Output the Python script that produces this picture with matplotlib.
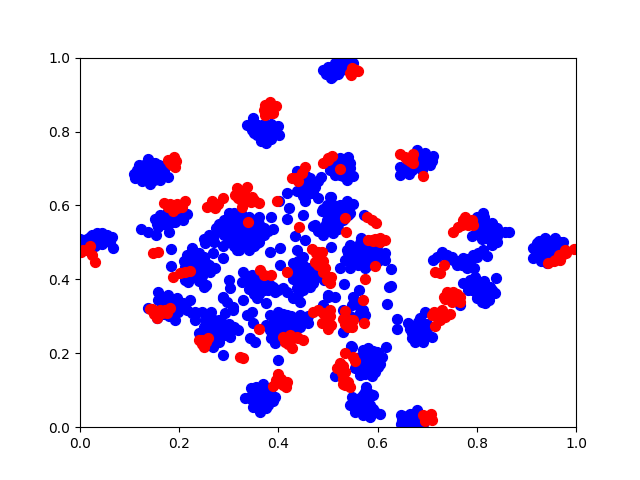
import matplotlib
matplotlib.use('Agg')
import matplotlib.pyplot as plt

# Points, group by group
blue_points = [
    # left edge
    (0.005, 0.50), (0.015, 0.51), (0.025, 0.52), (0.035, 0.525), (0.045, 0.525), (0.055, 0.52), (0.065, 0.515),
    (0.01, 0.49), (0.02, 0.50), (0.03, 0.505), (0.04, 0.51), (0.05, 0.505), (0.06, 0.50), (0.015, 0.48),
    (0.03, 0.49), (0.045, 0.495), (0.0, 0.51), (0.067, 0.485),
    # top
    (0.336, 0.818), (0.348, 0.836), (0.359, 0.818), (0.373, 0.814), (0.386, 0.821), (0.4, 0.816), (0.402, 0.79),
    (0.376, 0.77), (0.346, 0.805), (0.356, 0.791), (0.37, 0.785), (0.383, 0.791), (0.39, 0.805), (0.366, 0.8), (0.38, 0.8),
    (0.108, 0.686), (0.118, 0.71), (0.138, 0.725), (0.151, 0.715), (0.165, 0.701), (0.178, 0.677), (0.161, 0.669),
    (0.141, 0.658), (0.111, 0.674), (0.124, 0.678), (0.138, 0.692), (0.151, 0.683), (0.128, 0.701), (0.144, 0.705), (0.168, 0.683),
    (0.151, 0.564), (0.161, 0.575), (0.175, 0.579), (0.188, 0.579), (0.202, 0.584), (0.215, 0.577), (0.208, 0.561),
    (0.192, 0.556), (0.175, 0.547), (0.158, 0.543), (0.181, 0.565), (0.168, 0.561), (0.18, 0.528),
    (0.123, 0.536), (0.138, 0.527), (0.153, 0.519),
    # around (0.45, 0.65)
    (0.437, 0.692), (0.45, 0.669), (0.464, 0.674), (0.485, 0.677), (0.437, 0.638), (0.457, 0.647), (0.474, 0.651),
    (0.48, 0.62), (0.454, 0.611), (0.418, 0.633), (0.402, 0.613), (0.422, 0.593), (0.418, 0.563), (0.45, 0.575),
    (0.434, 0.516), (0.454, 0.507), (0.487, 0.584), (0.504, 0.624), (0.474, 0.547), (0.491, 0.543),
    # big cluster
    (0.3, 0.58), (0.31, 0.56), (0.325, 0.58), (0.34, 0.57), (0.35, 0.56), (0.36, 0.55), (0.29, 0.56), (0.28, 0.55),
    (0.3, 0.54), (0.32, 0.54), (0.34, 0.54), (0.36, 0.53), (0.38, 0.53), (0.385, 0.57), (0.39, 0.535),
    (0.26, 0.52), (0.25, 0.51), (0.28, 0.53), (0.3, 0.52), (0.32, 0.51), (0.34, 0.51), (0.36, 0.51),
    (0.31, 0.49), (0.33, 0.49), (0.35, 0.49),
    # top middle
    (0.49, 0.967), (0.507, 0.945), (0.5, 0.96), (0.51, 0.975), (0.52, 0.985), (0.53, 0.99), (0.54, 0.995),
    (0.525, 0.965), (0.51, 0.95), (0.54, 0.975), (0.55, 0.985), (0.495, 0.955),
    (0.524, 0.728), (0.541, 0.731), (0.514, 0.71), (0.534, 0.71), (0.551, 0.68), (0.539, 0.668), (0.514, 0.683),
    (0.504, 0.696), (0.524, 0.683), (0.497, 0.715), (0.545, 0.7),
    (0.679, 0.751), (0.696, 0.742), (0.711, 0.733), (0.706, 0.71), (0.645, 0.705), (0.645, 0.683), (0.664, 0.686),
    (0.679, 0.705), (0.696, 0.715), (0.699, 0.728), (0.682, 0.728), (0.665, 0.705),
    (0.507, 0.624), (0.538, 0.611), (0.551, 0.604), (0.524, 0.602), (0.511, 0.597), (0.497, 0.602), (0.5, 0.579),
    (0.514, 0.579), (0.528, 0.588), (0.541, 0.575), (0.497, 0.561), (0.514, 0.561), (0.531, 0.561), (0.511, 0.525),
    (0.497, 0.538), (0.573, 0.575), (0.567, 0.511), (0.47, 0.545), (0.48, 0.53), (0.49, 0.52), (0.5, 0.54),
    # right side
    (0.813, 0.579), (0.8, 0.57), (0.83, 0.552), (0.84, 0.538), (0.816, 0.552), (0.803, 0.552), (0.827, 0.525),
    (0.81, 0.529), (0.84, 0.516), (0.79, 0.516), (0.864, 0.529), (0.857, 0.529),
    (0.803, 0.471), (0.82, 0.462), (0.813, 0.48), (0.83, 0.493), (0.84, 0.502),
    (0.712, 0.453), (0.729, 0.475), (0.739, 0.457), (0.753, 0.453), (0.772, 0.457), (0.76, 0.439), (0.786, 0.448),
    (0.78, 0.43), (0.793, 0.466),
    (0.773, 0.389), (0.796, 0.407), (0.839, 0.405), (0.783, 0.371), (0.806, 0.389), (0.826, 0.38), (0.836, 0.364),
    (0.817, 0.335), (0.8, 0.349), (0.82, 0.358), (0.793, 0.385), (0.786, 0.398), (0.81, 0.367), (0.767, 0.331),
    (0.696, 0.313), (0.64, 0.292), (0.64, 0.265), (0.662, 0.281), (0.682, 0.285), (0.669, 0.254), (0.675, 0.231),
    (0.692, 0.231), (0.709, 0.245), (0.685, 0.254), (0.699, 0.267), (0.679, 0.267), (0.692, 0.281),
    (0.914, 0.484), (0.921, 0.498), (0.934, 0.502), (0.968, 0.502), (0.974, 0.484), (0.914, 0.457), (0.941, 0.444),
    (0.931, 0.461), (0.948, 0.48), (0.961, 0.489), (0.934, 0.484), (0.938, 0.511), (0.958, 0.511), (0.974, 0.502),
    # bottom
    (0.648, 0.033), (0.665, 0.037), (0.679, 0.046), (0.648, 0.01), (0.665, 0.014), (0.682, 0.019), (0.692, 0.01),
    (0.655, 0.023), (0.67, 0.005),
    (0.577, 0.109), (0.591, 0.087), (0.548, 0.082), (0.544, 0.06), (0.555, 0.042), (0.571, 0.033), (0.585, 0.028),
    (0.604, 0.037), (0.568, 0.064), (0.585, 0.06), (0.558, 0.073), (0.571, 0.087),
    (0.581, 0.213), (0.598, 0.204), (0.608, 0.19), (0.601, 0.164), (0.588, 0.138), (0.565, 0.141), (0.554, 0.159),
    (0.565, 0.19), (0.581, 0.181), (0.571, 0.208), (0.591, 0.173), (0.575, 0.159), (0.617, 0.218), (0.547, 0.22),
    (0.514, 0.138),
    # centre right
    (0.507, 0.487), (0.538, 0.48), (0.544, 0.493), (0.565, 0.498), (0.578, 0.484), (0.598, 0.489), (0.615, 0.471),
    (0.591, 0.457), (0.571, 0.448), (0.554, 0.457), (0.544, 0.43), (0.524, 0.43), (0.628, 0.427), (0.575, 0.43),
    (0.622, 0.38), (0.628, 0.382), (0.618, 0.333), (0.532, 0.388), (0.563, 0.371), (0.551, 0.353), (0.548, 0.331),
    (0.531, 0.317), (0.514, 0.353), (0.571, 0.317), (0.575, 0.304), (0.531, 0.258), (0.548, 0.218), (0.501, 0.358),
    (0.578, 0.471), (0.558, 0.475), (0.534, 0.453), (0.615, 0.453),
    # left and lower middle
    (0.183, 0.482), (0.183, 0.436),
    (0.215, 0.466), (0.225, 0.484), (0.239, 0.452), (0.212, 0.434), (0.222, 0.416), (0.249, 0.439), (0.262, 0.421),
    (0.272, 0.43), (0.252, 0.498), (0.269, 0.471), (0.288, 0.489), (0.289, 0.457), (0.218, 0.394), (0.249, 0.38),
    (0.235, 0.448), (0.232, 0.407), (0.212, 0.398), (0.255, 0.385),
    (0.301, 0.398), (0.302, 0.376), (0.289, 0.349), (0.296, 0.34),
    (0.158, 0.367), (0.178, 0.358), (0.195, 0.349), (0.208, 0.335), (0.222, 0.344), (0.138, 0.322), (0.155, 0.295),
    (0.192, 0.29), (0.232, 0.29), (0.245, 0.313), (0.215, 0.317), (0.175, 0.335), (0.158, 0.344), (0.198, 0.313), (0.232, 0.313),
    (0.239, 0.255), (0.265, 0.312), (0.252, 0.29), (0.275, 0.281), (0.292, 0.308), (0.309, 0.317), (0.319, 0.262),
    (0.303, 0.244), (0.282, 0.244), (0.269, 0.218), (0.288, 0.195), (0.262, 0.267), (0.286, 0.267), (0.249, 0.253), (0.336, 0.304),
    (0.329, 0.421), (0.326, 0.394), (0.346, 0.412), (0.362, 0.394), (0.383, 0.385), (0.41, 0.376), (0.356, 0.349),
    (0.329, 0.344), (0.346, 0.313), (0.376, 0.335), (0.393, 0.367), (0.289, 0.353), (0.309, 0.326), (0.349, 0.281),
    (0.343, 0.24), (0.353, 0.231), (0.4, 0.183),
    (0.316, 0.48), (0.329, 0.493), (0.356, 0.498), (0.383, 0.475), (0.403, 0.484), (0.403, 0.439),
    (0.437, 0.48), (0.43, 0.443), (0.45, 0.426), (0.477, 0.407), (0.464, 0.38), (0.417, 0.367), (0.444, 0.34),
    (0.437, 0.376), (0.464, 0.416), (0.491, 0.398), (0.45, 0.461), (0.444, 0.398),
    (0.383, 0.304), (0.4, 0.313), (0.417, 0.304), (0.444, 0.304), (0.46, 0.281), (0.383, 0.263), (0.403, 0.263),
    (0.423, 0.281), (0.393, 0.227), (0.444, 0.272), (0.376, 0.276), (0.41, 0.29), (0.39, 0.245),
    (0.344, 0.105), (0.368, 0.118), (0.333, 0.078), (0.349, 0.055), (0.363, 0.042), (0.376, 0.051), (0.393, 0.082),
    (0.383, 0.1), (0.363, 0.082), (0.353, 0.078), (0.376, 0.073), (0.375, 0.1), (0.355, 0.095),
    (0.501, 0.353), (0.49, 0.331),
]

# denser points inside the clusters
blue_inner = [
    (0.02, 0.515), (0.04, 0.5), (0.05, 0.515), (0.03, 0.515), (0.01, 0.505), (0.055, 0.51), (0.02, 0.49), (0.035, 0.495),
    (0.35, 0.82), (0.36, 0.805), (0.375, 0.8), (0.37, 0.82), (0.39, 0.815), (0.38, 0.78), (0.36, 0.79), (0.395, 0.8),
    (0.345, 0.82), (0.35, 0.795), (0.385, 0.78), (0.375, 0.79), (0.365, 0.775),
    (0.12, 0.69), (0.13, 0.71), (0.13, 0.68), (0.145, 0.715), (0.145, 0.69), (0.155, 0.7), (0.16, 0.685), (0.115, 0.695),
    (0.14, 0.675), (0.15, 0.67), (0.17, 0.695), (0.125, 0.665), (0.16, 0.71),
    (0.16, 0.555), (0.17, 0.57), (0.185, 0.57), (0.195, 0.57), (0.17, 0.55), (0.185, 0.555), (0.2, 0.57), (0.165, 0.565), (0.155, 0.55),
    (0.445, 0.655), (0.46, 0.66), (0.47, 0.66), (0.445, 0.64), (0.46, 0.63), (0.47, 0.635), (0.48, 0.665), (0.465, 0.65),
    (0.45, 0.625), (0.44, 0.67), (0.455, 0.68),
    (0.29, 0.54), (0.31, 0.54), (0.33, 0.55), (0.35, 0.54), (0.3, 0.56), (0.32, 0.56), (0.34, 0.555), (0.36, 0.57), (0.31, 0.58),
    (0.33, 0.57), (0.29, 0.52), (0.31, 0.52), (0.33, 0.52), (0.35, 0.52), (0.37, 0.52), (0.27, 0.52), (0.27, 0.5), (0.3, 0.5),
    (0.32, 0.5), (0.34, 0.5), (0.36, 0.5), (0.315, 0.53), (0.335, 0.535), (0.355, 0.53), (0.325, 0.51), (0.345, 0.53), (0.3, 0.51),
    (0.305, 0.57), (0.295, 0.55), (0.325, 0.545), (0.275, 0.54), (0.34, 0.48), (0.32, 0.48), (0.36, 0.54), (0.37, 0.54),
    (0.22, 0.44), (0.23, 0.46), (0.24, 0.47), (0.25, 0.46), (0.23, 0.43), (0.24, 0.43), (0.25, 0.42), (0.22, 0.45), (0.225, 0.425),
    (0.235, 0.415), (0.245, 0.41), (0.21, 0.45), (0.255, 0.445), (0.26, 0.44), (0.22, 0.405), (0.24, 0.395),
    (0.17, 0.34), (0.18, 0.345), (0.19, 0.335), (0.2, 0.325), (0.175, 0.32), (0.185, 0.32), (0.21, 0.325), (0.165, 0.33),
    (0.185, 0.305), (0.17, 0.305), (0.2, 0.34), (0.165, 0.35), (0.18, 0.3), (0.225, 0.31),
    (0.26, 0.28), (0.27, 0.26), (0.28, 0.26), (0.27, 0.29), (0.28, 0.29), (0.29, 0.28), (0.3, 0.26), (0.31, 0.27), (0.26, 0.25),
    (0.27, 0.24), (0.28, 0.23), (0.29, 0.25), (0.3, 0.28), (0.25, 0.27), (0.26, 0.3), (0.275, 0.25), (0.29, 0.265), (0.265, 0.27), (0.3, 0.25),
    (0.39, 0.28), (0.4, 0.29), (0.41, 0.28), (0.42, 0.29), (0.43, 0.29), (0.44, 0.29), (0.4, 0.27), (0.41, 0.26), (0.42, 0.26),
    (0.43, 0.27), (0.39, 0.26), (0.45, 0.29), (0.4, 0.25), (0.415, 0.27), (0.425, 0.3), (0.43, 0.26), (0.46, 0.3), (0.395, 0.3),
    (0.385, 0.24), (0.41, 0.305),
    (0.35, 0.4), (0.36, 0.38), (0.37, 0.39), (0.38, 0.37), (0.34, 0.39), (0.35, 0.38), (0.37, 0.37), (0.39, 0.38), (0.4, 0.37),
    (0.36, 0.36), (0.35, 0.36), (0.38, 0.39), (0.345, 0.41), (0.34, 0.375), (0.36, 0.41), (0.335, 0.41),
    (0.44, 0.45), (0.45, 0.44), (0.46, 0.43), (0.44, 0.42), (0.46, 0.41), (0.47, 0.42), (0.45, 0.41), (0.43, 0.42), (0.45, 0.39),
    (0.46, 0.39), (0.44, 0.38), (0.47, 0.39), (0.48, 0.42), (0.43, 0.4), (0.45, 0.37), (0.44, 0.36), (0.43, 0.35),
    (0.505, 0.96), (0.515, 0.96), (0.525, 0.98), (0.535, 0.98), (0.515, 0.985), (0.53, 0.975), (0.545, 0.99), (0.52, 0.955), (0.5, 0.975),
    (0.52, 0.715), (0.53, 0.72), (0.535, 0.695), (0.53, 0.68), (0.54, 0.68), (0.515, 0.695), (0.545, 0.715), (0.52, 0.7), (0.545, 0.685),
    (0.69, 0.73), (0.7, 0.72), (0.685, 0.71), (0.67, 0.695), (0.655, 0.695), (0.69, 0.695), (0.71, 0.72), (0.685, 0.74), (0.66, 0.7),
    (0.51, 0.6), (0.52, 0.59), (0.53, 0.6), (0.54, 0.59), (0.505, 0.57), (0.52, 0.57), (0.53, 0.575), (0.505, 0.55), (0.52, 0.55),
    (0.54, 0.6), (0.51, 0.54), (0.495, 0.55), (0.545, 0.58), (0.52, 0.535), (0.49, 0.59),
    (0.815, 0.57), (0.81, 0.545), (0.825, 0.54), (0.82, 0.53), (0.835, 0.53), (0.805, 0.54), (0.815, 0.52), (0.825, 0.51),
    (0.83, 0.55), (0.8, 0.53), (0.81, 0.51), (0.835, 0.515),
    (0.8, 0.39), (0.81, 0.38), (0.82, 0.37), (0.8, 0.37), (0.79, 0.37), (0.81, 0.35), (0.825, 0.345), (0.815, 0.395), (0.8, 0.36),
    (0.83, 0.37), (0.79, 0.39), (0.81, 0.34),
    (0.72, 0.46), (0.74, 0.465), (0.75, 0.46), (0.765, 0.45), (0.78, 0.455), (0.785, 0.44), (0.8, 0.46), (0.77, 0.44), (0.795, 0.43),
    (0.67, 0.27), (0.68, 0.27), (0.69, 0.26), (0.68, 0.24), (0.67, 0.24), (0.695, 0.25), (0.7, 0.28), (0.665, 0.265), (0.685, 0.295),
    (0.925, 0.49), (0.94, 0.495), (0.95, 0.495), (0.96, 0.5), (0.97, 0.495), (0.925, 0.47), (0.94, 0.47), (0.955, 0.47), (0.965, 0.47),
    (0.93, 0.45), (0.95, 0.46), (0.92, 0.475), (0.965, 0.49), (0.945, 0.505), (0.925, 0.505),
    (0.655, 0.012), (0.675, 0.03), (0.66, 0.03), (0.68, 0.03), (0.685, 0.03), (0.67, 0.02), (0.66, 0.005), (0.68, 0.005), (0.65, 0.02),
    (0.565, 0.08), (0.575, 0.07), (0.56, 0.06), (0.57, 0.05), (0.58, 0.075), (0.555, 0.055), (0.59, 0.05), (0.595, 0.04), (0.58, 0.04),
    (0.565, 0.05), (0.575, 0.095), (0.55, 0.07), (0.585, 0.09),
    (0.57, 0.19), (0.58, 0.2), (0.59, 0.19), (0.6, 0.18), (0.585, 0.165), (0.57, 0.17), (0.56, 0.165), (0.575, 0.145), (0.585, 0.15),
    (0.595, 0.15), (0.565, 0.155), (0.575, 0.21), (0.59, 0.205), (0.56, 0.175), (0.605, 0.17),
    (0.55, 0.48), (0.56, 0.47), (0.57, 0.47), (0.58, 0.46), (0.59, 0.47), (0.6, 0.475), (0.56, 0.455), (0.57, 0.46), (0.55, 0.465),
    (0.59, 0.445), (0.58, 0.44), (0.6, 0.45), (0.57, 0.44), (0.56, 0.44), (0.55, 0.45), (0.565, 0.485), (0.585, 0.495), (0.54, 0.47),
    (0.345, 0.085), (0.36, 0.095), (0.37, 0.09), (0.385, 0.085), (0.36, 0.07), (0.37, 0.06), (0.38, 0.06), (0.355, 0.06), (0.365, 0.055),
    (0.39, 0.07), (0.345, 0.075), (0.37, 0.105), (0.355, 0.11), (0.36, 0.05),
    (0.555, 0.34), (0.565, 0.31), (0.545, 0.3), (0.56, 0.3), (0.56, 0.33),
]

red_points = [
    (0.373, 0.873), (0.383, 0.879), (0.396, 0.868), (0.39, 0.85), (0.373, 0.845), (0.37, 0.858), (0.383, 0.863),
    (0.178, 0.724), (0.19, 0.731), (0.194, 0.719), (0.192, 0.703), (0.181, 0.716),
    (0.17, 0.606), (0.181, 0.604), (0.195, 0.604), (0.212, 0.613), (0.205, 0.595), (0.188, 0.586), (0.178, 0.597), (0.195, 0.593),
    (0.257, 0.597), (0.267, 0.611), (0.279, 0.604), (0.289, 0.62), (0.272, 0.593),
    (0.316, 0.647), (0.336, 0.649), (0.313, 0.629), (0.326, 0.633), (0.346, 0.624), (0.36, 0.606), (0.326, 0.597),
    (0.339, 0.611), (0.319, 0.62), (0.339, 0.555), (0.398, 0.612), (0.442, 0.541),
    (0.489, 0.716), (0.501, 0.728), (0.427, 0.674), (0.44, 0.665), (0.447, 0.687), (0.454, 0.704),
    (0.545, 0.958), (0.556, 0.967), (0.561, 0.963), (0.546, 0.953), (0.548, 0.973),
    (0.509, 0.733), (0.524, 0.698), (0.501, 0.724),
    (0.645, 0.74), (0.655, 0.731), (0.665, 0.719), (0.672, 0.715), (0.672, 0.74), (0.669, 0.728), (0.691, 0.681),
    (0.534, 0.565), (0.536, 0.527), (0.578, 0.57), (0.588, 0.561), (0.597, 0.552),
    (0.581, 0.507), (0.595, 0.509), (0.605, 0.511), (0.615, 0.507),
    (0.753, 0.527), (0.763, 0.543), (0.773, 0.561), (0.776, 0.57), (0.79, 0.561), (0.793, 0.547), (0.783, 0.547), (0.77, 0.547),
    (0.716, 0.421), (0.733, 0.439), (0.726, 0.416),
    (0.733, 0.353), (0.739, 0.367), (0.753, 0.367), (0.766, 0.353), (0.766, 0.34), (0.749, 0.34), (0.736, 0.346),
    (0.713, 0.313), (0.729, 0.317), (0.745, 0.306), (0.736, 0.297), (0.719, 0.297), (0.709, 0.304), (0.716, 0.275),
    (0.943, 0.445), (0.958, 0.453), (0.971, 0.466), (0.978, 0.48), (0.995, 0.481), (1.0, 0.482), (0.968, 0.453),
    (0.692, 0.033), (0.708, 0.037), (0.709, 0.019), (0.696, 0.017),
    (0.534, 0.2), (0.55, 0.19), (0.554, 0.18), (0.524, 0.173), (0.518, 0.159), (0.528, 0.146), (0.534, 0.15),
    (0.531, 0.118), (0.544, 0.109), (0.541, 0.123),
    (0.588, 0.507), (0.605, 0.502), (0.595, 0.435), (0.575, 0.4), (0.571, 0.344), (0.534, 0.314), (0.531, 0.294),
    (0.544, 0.29), (0.548, 0.27), (0.573, 0.283), (0.507, 0.407), (0.504, 0.389), (0.507, 0.276), (0.501, 0.267),
    (0.504, 0.317), (0.501, 0.304), (0.551, 0.29),
    (0.007, 0.48), (0.02, 0.489), (0.024, 0.466), (0.03, 0.448), (0.003, 0.475),
    (0.148, 0.472), (0.158, 0.475),
    (0.187, 0.406), (0.202, 0.416), (0.212, 0.421), (0.222, 0.423),
    (0.141, 0.319), (0.151, 0.313), (0.155, 0.295), (0.161, 0.317), (0.171, 0.317), (0.181, 0.322), (0.158, 0.304),
    (0.245, 0.236), (0.259, 0.24), (0.249, 0.218), (0.239, 0.236),
    (0.323, 0.191), (0.329, 0.186), (0.36, 0.265),
    (0.362, 0.425), (0.37, 0.412), (0.386, 0.412), (0.417, 0.419),
    (0.41, 0.245), (0.423, 0.249), (0.437, 0.245), (0.45, 0.236), (0.413, 0.231), (0.427, 0.215), (0.423, 0.236),
    (0.4, 0.143), (0.39, 0.112), (0.403, 0.123), (0.417, 0.123), (0.415, 0.108), (0.396, 0.127),
    (0.467, 0.481), (0.487, 0.475), (0.474, 0.448), (0.494, 0.43), (0.501, 0.407), (0.48, 0.317), (0.47, 0.313),
    (0.487, 0.281), (0.501, 0.29), (0.497, 0.398),
    # denser red
    (0.38, 0.855), (0.39, 0.865), (0.378, 0.87), (0.385, 0.85), (0.185, 0.72), (0.185, 0.71),
    (0.18, 0.595), (0.19, 0.595), (0.2, 0.6), (0.325, 0.615), (0.335, 0.62), (0.33, 0.635), (0.345, 0.61), (0.35, 0.615),
    (0.265, 0.6), (0.435, 0.675), (0.66, 0.725), (0.773, 0.55), (0.78, 0.56), (0.785, 0.555),
    (0.72, 0.31), (0.73, 0.305), (0.725, 0.29), (0.74, 0.36), (0.75, 0.35), (0.76, 0.36), (0.745, 0.355),
    (0.53, 0.165), (0.525, 0.16), (0.53, 0.13), (0.535, 0.115),
    (0.165, 0.31), (0.15, 0.305), (0.175, 0.31), (0.145, 0.32), (0.245, 0.225), (0.25, 0.23), (0.255, 0.23),
    (0.395, 0.12), (0.405, 0.13), (0.41, 0.115), (0.42, 0.24), (0.43, 0.24), (0.415, 0.24), (0.44, 0.24), (0.42, 0.225),
    (0.54, 0.285), (0.535, 0.28), (0.54, 0.27), (0.5, 0.28), (0.505, 0.3), (0.495, 0.3), (0.49, 0.31),
    (0.48, 0.475), (0.475, 0.47), (0.49, 0.45), (0.48, 0.44), (0.49, 0.42),
    (0.59, 0.505), (0.6, 0.505), (0.955, 0.45), (0.965, 0.465), (0.98, 0.47), (0.7, 0.025), (0.7, 0.03), (0.015, 0.48),
]

all_blue = blue_points + blue_inner
blue_x = [p[0] for p in all_blue]
blue_y = [p[1] for p in all_blue]
red_x = [p[0] for p in red_points]
red_y = [p[1] for p in red_points]

plt.figure(figsize=(6.4, 4.8), dpi=100)
plt.scatter(blue_x, blue_y, c='b', s=50)
plt.scatter(red_x, red_y, c='r', s=50)
plt.xlim(0, 1)
plt.ylim(0, 1)

plt.savefig('out.png')
